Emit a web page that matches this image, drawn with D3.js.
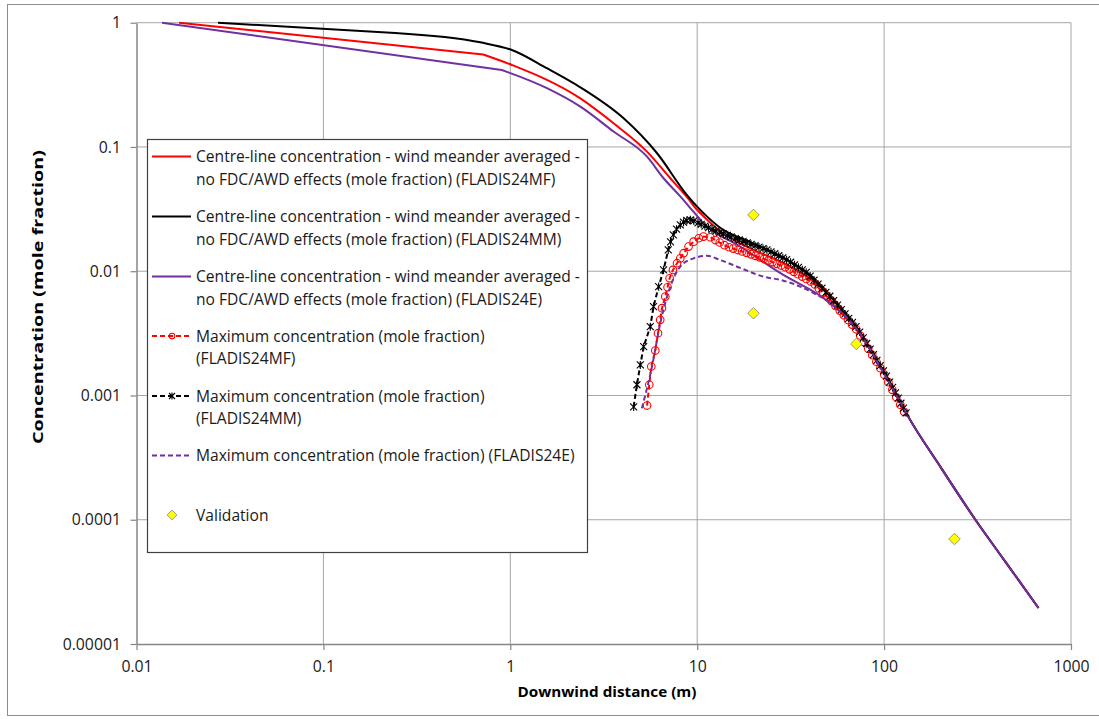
<!DOCTYPE html>
<html>
<head>
<meta charset="utf-8">
<script src="https://cdn.jsdelivr.net/npm/d3@7"></script>
<style>
  html, body { margin: 0; padding: 0; background: #ffffff; }
  svg { display: block; font-family: "Open Sans", "Lato", sans-serif; }
</style>
</head>
<body>
<script>
// Axis ticks
const xTicks = [0.01, 0.1, 1, 10, 100, 1000];
const xTickLabels = ["0.01", "0.1", "1", "10", "100", "1000"];
const yTicks = [1, 0.1, 0.01, 0.001, 0.0001, 0.00001];
const yTickLabels = ["1", "0.1", "0.01", "0.001", "0.0001", "0.00001"];

// Centre-line concentration, wind meander averaged (distance m, mole fraction)
const centreMF = [
  [0.0169, 1.0], [0.716, 0.555], [1.02, 0.457], [2.37, 0.246], [3.57, 0.155],
  [5.39, 0.0917], [7.18, 0.056], [8.12, 0.0455], [9.0, 0.038], [9.57, 0.0335],
  [11.3, 0.026], [14.4, 0.0192], [18.5, 0.0157], [30.3, 0.0112], [41.8, 0.00835],
  [51.6, 0.0063], [71.7, 0.0035], [100, 0.00152], [117, 0.001], [133, 0.000698],
  [200, 0.000267], [308, 0.0001], [446, 0.0000458], [670, 0.0000195]
];
const centreMM = [
  [0.0273, 1.0], [0.242, 0.826], [0.69, 0.695], [1.02, 0.603], [1.57, 0.43],
  [2.37, 0.302], [4.04, 0.17], [6.1, 0.089], [8.82, 0.041], [11.3, 0.0275],
  [13.8, 0.0215], [18.5, 0.0176], [27.9, 0.0132], [40, 0.0094], [51.6, 0.0064],
  [71.7, 0.0035], [100, 0.00152], [117, 0.001], [133, 0.000698],
  [200, 0.000267], [308, 0.0001], [446, 0.0000458], [670, 0.0000195]
];
const centreE = [
  [0.0137, 1.0], [0.9, 0.416], [1.57, 0.297], [2.37, 0.211], [3.57, 0.133],
  [5.39, 0.0835], [6.61, 0.056], [8.12, 0.04], [9.57, 0.03], [10.8, 0.0243],
  [17.0, 0.0158], [27.9, 0.00964], [51.6, 0.00553], [71.7, 0.0034],
  [100, 0.0015], [117, 0.001], [133, 0.000698], [200, 0.000267],
  [308, 0.0001], [446, 0.0000458], [670, 0.0000195]
];

// Maximum concentration (distance m, mole fraction)
const maxMF = [
  [5.39, 0.00083], [5.54, 0.00122], [5.68, 0.00171], [5.97, 0.0023], [6.17, 0.00317],
  [6.34, 0.00406], [6.48, 0.00504], [6.75, 0.00625], [6.94, 0.00743], [7.12, 0.00878],
  [7.42, 0.01024], [7.8, 0.0116], [8.12, 0.0127], [8.46, 0.01396], [8.99, 0.01578],
  [9.57, 0.0173], [10.2, 0.01843], [10.8, 0.019], [11.75, 0.01877], [12.5, 0.01782],
  [13.2, 0.01702], [14, 0.01619], [14.8, 0.01559], [15.6, 0.01521], [16.5, 0.01481],
  [17.4, 0.01444], [18.4, 0.01406], [19.4, 0.01368], [20.5, 0.01329], [21.6, 0.01293],
  [22.8, 0.01257], [24, 0.01222], [25.3, 0.01184], [26.7, 0.01146], [28.1, 0.01111],
  [29.6, 0.01077], [31.2, 0.01035], [32.9, 0.00989], [34.6, 0.00947], [36.5, 0.00905],
  [38.4, 0.00867], [40.5, 0.00828], [42.6, 0.00783], [44.8, 0.00726], [47.2, 0.00672],
  [49.7, 0.00621], [52.3, 0.00574], [55, 0.00526], [57.9, 0.00482], [60.9, 0.00442],
  [64.1, 0.00405], [67.4, 0.00372], [70.9, 0.00341], [74.5, 0.00304], [78.3, 0.00269],
  [82.3, 0.00238], [86.5, 0.00211], [90.9, 0.00187], [95.5, 0.00166], [100.3, 0.00147],
  [105.4, 0.00128], [110.7, 0.00111], [116.3, 0.000968], [122.1, 0.000844], [128, 0.000739]
];
const maxMM = [
  [4.57, 0.00081], [4.76, 0.00122], [4.96, 0.00176], [5.17, 0.00247], [5.61, 0.00358],
  [5.84, 0.00519], [6.22, 0.00752], [6.61, 0.01024], [7.0, 0.01484], [7.2, 0.0172],
  [7.45, 0.0196], [7.75, 0.0218], [8.12, 0.0236], [8.45, 0.0248], [8.8, 0.0256],
  [9.19, 0.0259], [9.6, 0.0254], [10.1, 0.0245], [10.5, 0.02387], [11, 0.0231],
  [11.5, 0.0224], [12, 0.02174], [12.6, 0.02108], [13.2, 0.0205], [13.8, 0.01997],
  [14.5, 0.0194], [15.2, 0.01887], [16, 0.01833], [16.8, 0.01783], [17.6, 0.01737],
  [18.5, 0.01688], [19.4, 0.01646], [20.4, 0.01604], [21.4, 0.01564], [22.5, 0.01523],
  [23.6, 0.01485], [24.8, 0.01432], [26, 0.01382], [27.3, 0.01332], [28.7, 0.01283],
  [30.1, 0.01238], [31.6, 0.01181], [33.2, 0.01126], [34.8, 0.01075], [36.5, 0.01026],
  [38.3, 0.00979], [40.2, 0.00914], [42.2, 0.00848], [44.3, 0.00786], [46.5, 0.0073],
  [48.8, 0.00677], [51.2, 0.00629], [53.7, 0.00579], [56.3, 0.00533], [59, 0.00491],
  [61.8, 0.00453], [64.7, 0.00418], [67.7, 0.00387], [70.8, 0.00358], [74, 0.00324],
  [77.3, 0.00291], [80.7, 0.00262], [84.2, 0.00236], [87.8, 0.00213], [91.5, 0.00192],
  [95.3, 0.00174], [99.2, 0.00158], [103, 0.00143], [107, 0.00128], [111, 0.00116],
  [115, 0.00105], [119, 0.000951], [123, 0.000866], [127, 0.000791], [131, 0.000725]
];
const maxE = [
  [5.06, 0.00079], [5.73, 0.00171], [6.35, 0.00384], [7.18, 0.00752], [8.12, 0.0109],
  [9.57, 0.0127], [11.3, 0.0133], [13.3, 0.0123], [17.0, 0.01063], [22.6, 0.00905],
  [27.9, 0.00851], [35.6, 0.00752], [41.8, 0.00669], [51.6, 0.00553], [71.7, 0.0034],
  [100, 0.0015], [133, 0.0007]
];

// Validation measurements
const validation = [[20, 0.0284], [20, 0.00459], [71, 0.0026], [238, 0.00007]];

// Legend text
const legendLabels = [
  ["Centre-line concentration - wind meander averaged -", "no FDC/AWD effects (mole fraction) (FLADIS24MF)"],
  ["Centre-line concentration - wind meander averaged -", "no FDC/AWD effects (mole fraction) (FLADIS24MM)"],
  ["Centre-line concentration - wind meander averaged -", "no FDC/AWD effects (mole fraction) (FLADIS24E)"],
  ["Maximum concentration (mole fraction)", "(FLADIS24MF)"],
  ["Maximum concentration (mole fraction)", "(FLADIS24MM)"],
  ["Maximum concentration (mole fraction) (FLADIS24E)"],
  ["Validation"]
];

const RED = "#ff0000", BLACK = "#000000", PURPLE = "#7030a0";
// straight: number of leading points joined by straight segments before the smooth part
const series = [
  { data: centreMF, color: RED, dash: null, marker: null, straight: 2 },
  { data: centreMM, color: BLACK, dash: null, marker: null, straight: 2 },
  { data: centreE, color: PURPLE, dash: null, marker: null, straight: 2 },
  { data: maxMF, color: RED, dash: "5,3", marker: "circle", straight: Infinity },
  { data: maxMM, color: BLACK, dash: "5,3", marker: "star", straight: Infinity },
  { data: maxE, color: PURPLE, dash: "5,3", marker: null, straight: 1 }
];

const W = 1099, H = 719;
const svg = d3.select("body").append("svg").attr("width", W).attr("height", H);

// outer chart frame
svg.append("rect").attr("x", 7.5).attr("y", 4.5).attr("width", 1100).attr("height", 711)
  .attr("fill", "#ffffff").attr("stroke", "#8c8c8c").attr("stroke-width", 1);

const x = d3.scaleLog().domain([0.01, 1000]).range([136.5, 1071]);
const y = d3.scaleLog().domain([0.00001, 1]).range([644, 22.7]);

// gridlines
const grid = svg.append("g").attr("stroke", "#a6a6a6").attr("stroke-width", 1);
grid.selectAll("line.h").data(yTicks.slice(0, -1)).join("line")
  .attr("x1", x(0.01)).attr("x2", x(1000))
  .attr("y1", d => y(d)).attr("y2", d => y(d));
grid.selectAll("line.v").data(xTicks.slice(1)).join("line")
  .attr("y1", y(1)).attr("y2", y(0.00001))
  .attr("x1", d => x(d)).attr("x2", d => x(d));

// axes
const tickFont = "15.8px";
const yAxis = svg.append("g").attr("transform", `translate(${x(0.01)},0)`)
  .call(d3.axisLeft(y).tickValues(yTicks).tickFormat((d, i) => yTickLabels[i])
    .tickSize(6).tickPadding(9.5).tickSizeOuter(0));
const xAxis = svg.append("g").attr("transform", `translate(0,${y(0.00001)})`)
  .call(d3.axisBottom(x).tickValues(xTicks).tickFormat((d, i) => xTickLabels[i])
    .tickSize(6).tickPadding(10.5).tickSizeOuter(0));
[xAxis, yAxis].forEach(a => {
  a.select(".domain").attr("stroke", "#868686").attr("stroke-width", 1.5);
  a.selectAll(".tick line").attr("stroke", "#868686").attr("stroke-width", 1.2);
  a.selectAll(".tick text").attr("fill", "#1a1a1a")
    .style("font-size", tickFont).style("font-family", "'Open Sans', sans-serif");
});

// axis titles
svg.append("text").attr("x", 607).attr("y", 697).attr("text-anchor", "middle")
  .style("font-weight", "bold").style("font-size", "14px").attr("fill", "#000")
  .attr("textLength", 179).attr("lengthAdjust", "spacingAndGlyphs")
  .text("Downwind distance (m)");
svg.append("text").attr("transform", "translate(43,297) rotate(-90)").attr("text-anchor", "middle")
  .style("font-weight", "bold").style("font-size", "15px").attr("fill", "#000")
  .attr("textLength", 294).attr("lengthAdjust", "spacingAndGlyphs")
  .text("Concentration (mole fraction)");

const lineStraight = d3.line().x(d => x(d[0])).y(d => y(d[1]));
const lineSmooth = d3.line().x(d => x(d[0])).y(d => y(d[1])).curve(d3.curveMonotoneX);

function starPath(s) {
  return `M${-s},${-s}L${s},${s}M${-s},${s}L${s},${-s}M0,${-s * 1.15}L0,${s * 1.15}`;
}
function drawMarker(g, type, color, cx, cy, size) {
  if (type === "circle") {
    g.append("circle").attr("cx", cx).attr("cy", cy).attr("r", size)
      .attr("fill", "none").attr("stroke", color).attr("stroke-width", 1.1);
  } else if (type === "star") {
    g.append("path").attr("transform", `translate(${cx},${cy})`).attr("d", starPath(size))
      .attr("fill", "none").attr("stroke", color).attr("stroke-width", 1.1);
  }
}

// a series path: a straight lead-in followed by a smooth remainder
function seriesPath(s) {
  const n = Math.min(s.straight, s.data.length);
  const head = lineStraight(s.data.slice(0, n)) || "";
  const tail = n < s.data.length ? lineSmooth(s.data.slice(Math.max(n - 1, 0))) : "";
  return head + tail.replace(/^M/, n > 1 ? "L" : "M");
}

const plot = svg.append("g");
series.forEach(s => {
  plot.append("path").attr("d", seriesPath(s))
    .attr("fill", "none").attr("stroke", s.color).attr("stroke-width", 2)
    .attr("stroke-dasharray", s.dash).attr("stroke-linejoin", "round");
  if (s.marker) {
    const mg = plot.append("g");
    s.data.forEach(d => drawMarker(mg, s.marker, s.color, x(d[0]), y(d[1]),
      s.marker === "circle" ? 3.8 : 3.5));
  }
});

// validation diamonds
const diamond = d3.symbol().type(d3.symbolDiamond2).size(85);
plot.selectAll("path.val").data(validation).join("path")
  .attr("transform", d => `translate(${x(d[0])},${y(d[1])})`)
  .attr("d", diamond).attr("fill", "#ffff00").attr("stroke", "#7f7f7f").attr("stroke-width", 0.8);

// legend
const lg = svg.append("g");
lg.append("rect").attr("x", 147.5).attr("y", 139.5).attr("width", 440).attr("height", 413)
  .attr("fill", "#ffffff").attr("stroke", "#404040").attr("stroke-width", 1.2);
const legendY = [156.5, 216.5, 276.5, 336, 396, 455.5, 515];
legendLabels.forEach((lines, i) => {
  const cy = legendY[i];
  if (i < 6) {
    const s = series[i];
    lg.append("line").attr("x1", 152).attr("x2", 191).attr("y1", cy).attr("y2", cy)
      .attr("stroke", s.color).attr("stroke-width", 2).attr("stroke-dasharray", s.dash);
    if (s.marker) drawMarker(lg, s.marker, s.color, 172, cy, s.marker === "circle" ? 2.8 : 3);
  } else {
    lg.append("path").attr("transform", `translate(172,${cy})`)
      .attr("d", d3.symbol().type(d3.symbolDiamond2).size(60))
      .attr("fill", "#ffff00").attr("stroke", "#7f7f7f").attr("stroke-width", 0.8);
  }
  lines.forEach((t, j) => {
    lg.append("text").attr("x", 196).attr("y", cy + j * 22.5).attr("dy", "0.36em")
      .style("font-size", "15.6px").attr("fill", "#1a1a1a").text(t);
  });
});
</script>
</body>
</html>
